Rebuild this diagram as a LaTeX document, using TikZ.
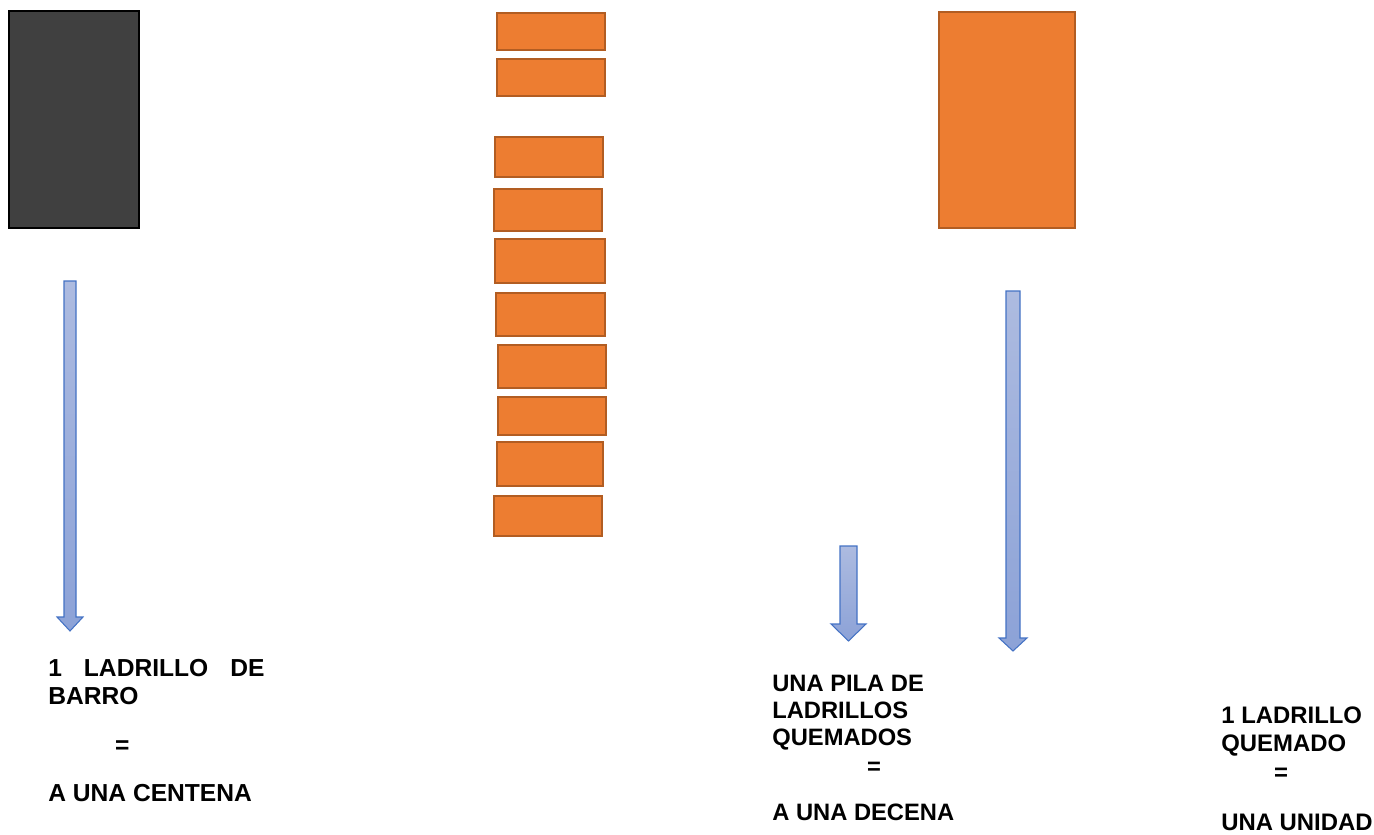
\documentclass[tikz,border=0pt]{standalone}
\usepackage{fontspec}
\setmainfont{Liberation Sans}
\definecolor{barro}{HTML}{404040}
\definecolor{ladrillo}{HTML}{ED7D31}
\definecolor{ladrilloborde}{HTML}{B25D22}
\definecolor{flechaarriba}{HTML}{ADBBE0}
\definecolor{flechaabajo}{HTML}{8CA2D7}
\definecolor{flechaborde}{HTML}{4472C4}

\begin{document}
\begin{tikzpicture}[x=0.02cm, y=-0.02cm,
    brick/.style={fill=ladrillo, draw=ladrilloborde, line width=1pt},
    flecha/.style={draw=flechaborde, line width=0.6pt, top color=flechaarriba, bottom color=flechaabajo},
    rotulo/.style={anchor=north west, inner sep=0pt, align=left}]
    \useasboundingbox (0,0) rectangle (1374,835);
    % ladrillo de barro
    \draw[fill=barro, line width=1.4pt] (9,11) rectangle (139,228);
    % pila de ladrillos
    \foreach \xa/\ya/\xb/\yb in {497/13/605/50, 497/59/605/96, 495/137/603/177, 494/189/602/231, 495/239/605/283,
        496/293/605/336, 498/345/606/388, 498/397/606/435, 497/442/603/486, 494/496/602/536}
        \draw[brick] (\xa,\ya) rectangle (\xb,\yb);
    % ladrillo quemado
    \draw[brick] (939,12) rectangle (1075,228);
    % flechas
    \foreach \cx/\w/\arriba/\cuello/\punta/\cab in {70/6/281/617/631/13, 848.5/8.5/546/624/641/17.5, 1013/7/291/638/651/14}
        \draw[flecha] (\cx-\w,\arriba) -- (\cx+\w,\arriba) -- (\cx+\w,\cuello) -- (\cx+\cab,\cuello) -- (\cx,\punta)
            -- (\cx-\cab,\cuello) -- (\cx-\w,\cuello) -- cycle;
    % textos
    \node[rotulo, font=\bfseries\fontsize{14}{15.9}\selectfont] (centena) at (48,659)
        {\makebox[123pt][s]{1\hfill LADRILLO\hfill DE}\\BARRO\\[11.9pt]\hspace*{38pt}=\\[11.3pt]A UNA CENTENA};
    \node[rotulo, font=\bfseries\fontsize{13.5}{15.3}\selectfont] (decena) at (772,675)
        {UNA PILA DE\\LADRILLOS\\QUEMADOS\\[1.1pt]\hspace*{53.9pt}=\\[11.3pt]A UNA DECENA};
    \node[rotulo, font=\bfseries\fontsize{13.6}{16.4}\selectfont] (unidad) at (1221,706)
        {1 LADRILLO\\QUEMADO\\\hspace*{30pt}=\\[11.9pt]UNA UNIDAD};
\end{tikzpicture}
\end{document}
